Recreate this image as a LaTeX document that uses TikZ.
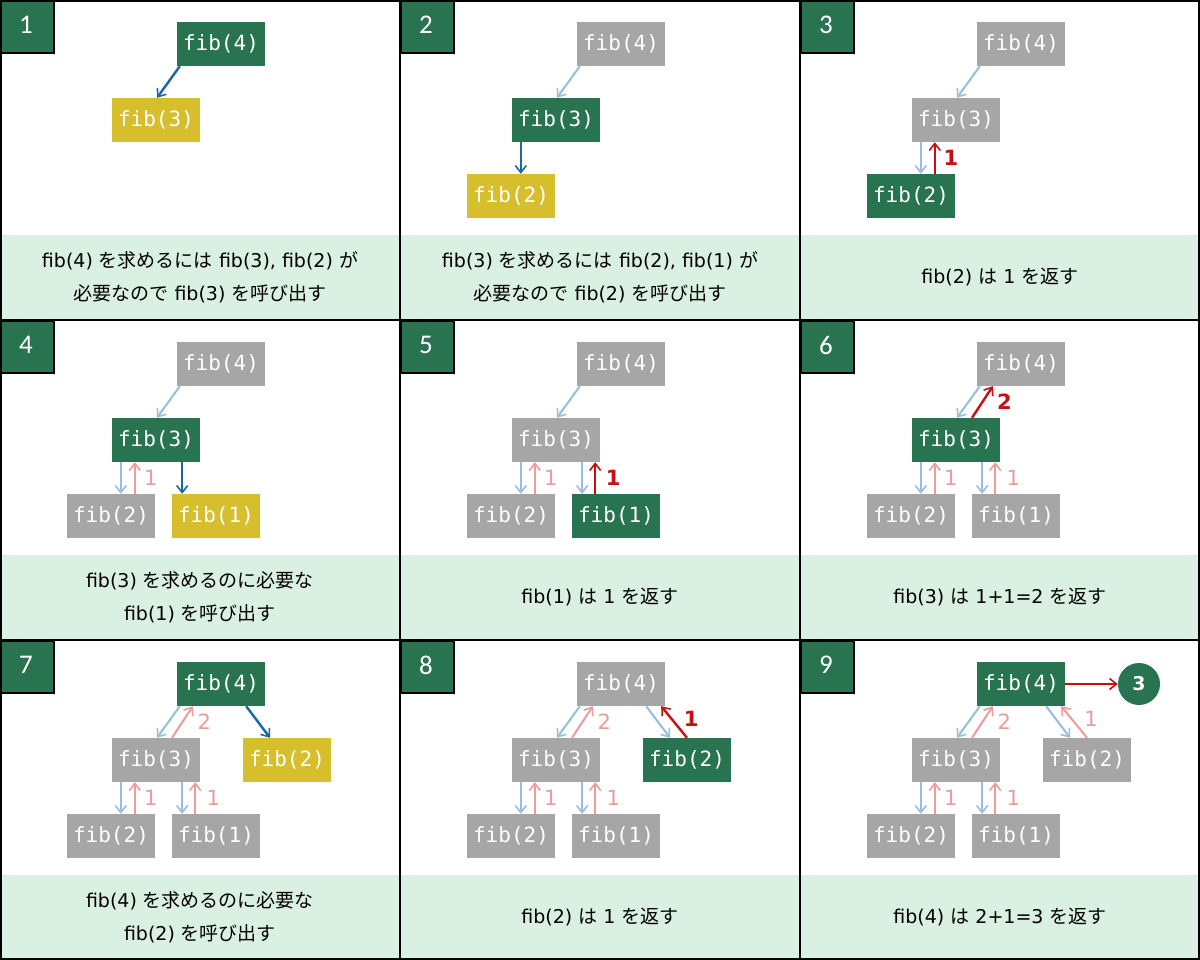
\documentclass[tikz,border=0pt]{standalone}
\usepackage{fontspec}
\setmainfont{DejaVu Sans}
\newfontfamily\jp{Noto Sans CJK JP}
\newfontfamily\mono{DejaVu Sans Mono}
\newfontfamily\numf{Carlito}
\usetikzlibrary{arrows.meta}
\definecolor{dgreen}{RGB}{40,115,80}
\definecolor{ochre}{RGB}{214,190,45}
\definecolor{fgray}{RGB}{166,166,166}
\definecolor{band}{RGB}{218,240,227}
\definecolor{lblue}{RGB}{150,190,222}
\definecolor{dblue}{RGB}{28,102,168}
\definecolor{lred}{RGB}{238,155,155}
\definecolor{dred}{RGB}{200,16,16}
\tikzset{
  fbox/.style={minimum width=88pt,minimum height=44pt,inner sep=0pt,text=white,font=\mono\fontsize{21}{24}\selectfont},
  gbox/.style={fbox,fill=fgray},
  dbox/.style={fbox,fill=dgreen},
  ybox/.style={fbox,fill=ochre},
  arr/.style={line width=2pt,-{Straight Barb[length=7pt,width=11pt,line width=1.6pt]}},
  callL/.style={arr,draw=lblue},
  callD/.style={arr,draw=dblue,line width=2.4pt},
  retL/.style={arr,draw=lred},
  retD/.style={arr,draw=dred,line width=2.4pt},
  lblL/.style={text=lred,font=\fontsize{21}{24}\selectfont,inner sep=0pt},
  lblD/.style={text=dred,font=\bfseries\fontsize{21}{24}\selectfont,inner sep=0pt},
  capt/.style={align=center,font=\fontsize{19}{33}\selectfont,text=black},
  stepno/.style={text=white,font=\numf\fontsize{27}{30}\selectfont},
}
% arrows between the standard node names
\newcommand\cLeft[1]{\draw[#1] ([xshift=3pt]f4.south west) -- ([xshift=1pt]f3.north);}
\newcommand\rLeft[2]{\draw[#1] ([xshift=16pt]f3.north) -- node[#2,xshift=22pt]{2} ([xshift=16pt]f4.south west);}
\newcommand\cRight[1]{\draw[#1] ([xshift=-19pt]f4.south east) -- ([xshift=-17pt]f2r.north);}
\newcommand\rRight[2]{\draw[#1] (f2r.north) -- node[#2,xshift=17pt,yshift=3pt]{1} ([xshift=-4pt]f4.south east);}
\newcommand\cA[1]{\coordinate (ca) at ([xshift=9pt]f3.south west);\draw[#1] (ca) -- (ca |- f2.north);}
\newcommand\rA[2]{\coordinate (ra) at ([xshift=23pt]f3.south west);\draw[#1] (ra |- f2.north) -- node[#2,xshift=16pt]{1} (ra);}
\newcommand\cB[1]{\coordinate (cb) at ([xshift=-18pt]f3.south east);\draw[#1] (cb) -- (cb |- f1.north);}
\newcommand\rB[2]{\coordinate (rb) at ([xshift=-5pt]f3.south east);\draw[#1] (rb |- f1.north) -- node[#2,xshift=18pt]{1} (rb);}
\newcommand\panelbg[1]{%
  \fill[band] (0,235) rectangle (400,320);
  \draw[fill=dgreen,draw=black,line width=2pt] (1,1) rectangle (54,53);
  \node[stepno] (num) at (26,25) {#1};}
\begin{document}
\begin{tikzpicture}[x=1pt,y=-1pt]
\useasboundingbox (0,0) rectangle (1200,960);
\fill[white] (0,0) rectangle (1200,960);
% ---------- panel 1
\begin{scope}[shift={(0,0)},name prefix=p1-]
\panelbg{1}
\node[dbox] (f4) at (221,44) {fib(4)};
\node[ybox] (f3) at (156,120) {fib(3)};
\cLeft{callD}
\node[capt] (cap) at (200,277) {fib(4) {\jp を求めるには} fib(3), fib(2) {\jp が}\\{\jp 必要なので} fib(3) {\jp を呼び出す}};
\end{scope}
% ---------- panel 2
\begin{scope}[shift={(400,0)},name prefix=p2-]
\panelbg{2}
\node[gbox] (f4) at (221,44) {fib(4)};
\node[dbox] (f3) at (156,120) {fib(3)};
\node[ybox] (f2) at (111,196) {fib(2)};
\cLeft{callL}
\cA{callD}
\node[capt] (cap) at (200,277) {fib(3) {\jp を求めるには} fib(2), fib(1) {\jp が}\\{\jp 必要なので} fib(2) {\jp を呼び出す}};
\end{scope}
% ---------- panel 3
\begin{scope}[shift={(800,0)},name prefix=p3-]
\panelbg{3}
\node[gbox] (f4) at (221,44) {fib(4)};
\node[gbox] (f3) at (156,120) {fib(3)};
\node[dbox] (f2) at (111,196) {fib(2)};
\cLeft{callL}
\cA{callL}
\rA{retD}{lblD}
\node[capt] (cap) at (200,277) {fib(2) {\jp は} 1 {\jp を返す}};
\end{scope}
% ---------- panel 4
\begin{scope}[shift={(0,320)},name prefix=p4-]
\panelbg{4}
\node[gbox] (f4) at (221,44) {fib(4)};
\node[dbox] (f3) at (156,120) {fib(3)};
\node[gbox] (f2) at (111,196) {fib(2)};
\node[ybox] (f1) at (216,196) {fib(1)};
\cLeft{callL}
\cA{callL}
\rA{retL}{lblL}
\cB{callD}
\node[capt] (cap) at (200,277) {fib(3) {\jp を求めるのに必要な}\\fib(1) {\jp を呼び出す}};
\end{scope}
% ---------- panel 5
\begin{scope}[shift={(400,320)},name prefix=p5-]
\panelbg{5}
\node[gbox] (f4) at (221,44) {fib(4)};
\node[gbox] (f3) at (156,120) {fib(3)};
\node[gbox] (f2) at (111,196) {fib(2)};
\node[dbox] (f1) at (216,196) {fib(1)};
\cLeft{callL}
\cA{callL}
\rA{retL}{lblL}
\cB{callL}
\rB{retD}{lblD}
\node[capt] (cap) at (200,277) {fib(1) {\jp は} 1 {\jp を返す}};
\end{scope}
% ---------- panel 6
\begin{scope}[shift={(800,320)},name prefix=p6-]
\panelbg{6}
\node[gbox] (f4) at (221,44) {fib(4)};
\node[dbox] (f3) at (156,120) {fib(3)};
\node[gbox] (f2) at (111,196) {fib(2)};
\node[gbox] (f1) at (216,196) {fib(1)};
\cLeft{callL}
\rLeft{retD}{lblD}
\cA{callL}
\rA{retL}{lblL}
\cB{callL}
\rB{retL}{lblL}
\node[capt] (cap) at (200,277) {fib(3) {\jp は} 1+1=2 {\jp を返す}};
\end{scope}
% ---------- panel 7
\begin{scope}[shift={(0,640)},name prefix=p7-]
\panelbg{7}
\node[dbox] (f4) at (221,44) {fib(4)};
\node[gbox] (f3) at (156,120) {fib(3)};
\node[ybox] (f2r) at (287,120) {fib(2)};
\node[gbox] (f2) at (111,196) {fib(2)};
\node[gbox] (f1) at (216,196) {fib(1)};
\cLeft{callL}
\rLeft{retL}{lblL}
\cRight{callD}
\cA{callL}
\rA{retL}{lblL}
\cB{callL}
\rB{retL}{lblL}
\node[capt] (cap) at (200,277) {fib(4) {\jp を求めるのに必要な}\\fib(2) {\jp を呼び出す}};
\end{scope}
% ---------- panel 8
\begin{scope}[shift={(400,640)},name prefix=p8-]
\panelbg{8}
\node[gbox] (f4) at (221,44) {fib(4)};
\node[gbox] (f3) at (156,120) {fib(3)};
\node[dbox] (f2r) at (287,120) {fib(2)};
\node[gbox] (f2) at (111,196) {fib(2)};
\node[gbox] (f1) at (216,196) {fib(1)};
\cLeft{callL}
\rLeft{retL}{lblL}
\cRight{callL}
\rRight{retD}{lblD}
\cA{callL}
\rA{retL}{lblL}
\cB{callL}
\rB{retL}{lblL}
\node[capt] (cap) at (200,277) {fib(2) {\jp は} 1 {\jp を返す}};
\end{scope}
% ---------- panel 9
\begin{scope}[shift={(800,640)},name prefix=p9-]
\panelbg{9}
\node[dbox] (f4) at (221,44) {fib(4)};
\node[gbox] (f3) at (156,120) {fib(3)};
\node[gbox] (f2r) at (287,120) {fib(2)};
\node[gbox] (f2) at (111,196) {fib(2)};
\node[gbox] (f1) at (216,196) {fib(1)};
\node[circle,fill=dgreen,minimum size=42pt,inner sep=0pt,text=white,font=\bfseries\fontsize{19}{22}\selectfont] (res) at (339,44) {3};
\cLeft{callL}
\rLeft{retL}{lblL}
\cRight{callL}
\rRight{retL}{lblL}
\cA{callL}
\rA{retL}{lblL}
\cB{callL}
\rB{retL}{lblL}
\draw[retD,line width=2pt] (f4.east) -- (res.west);
\node[capt] (cap) at (200,277) {fib(4) {\jp は} 2+1=3 {\jp を返す}};
\end{scope}
% ---------- grid
\draw[line width=2pt] (1,1) rectangle (1199,959);
\draw[line width=2pt] (400,0) -- (400,960) (800,0) -- (800,960) (0,320) -- (1200,320) (0,640) -- (1200,640);
\end{tikzpicture}
\end{document}
